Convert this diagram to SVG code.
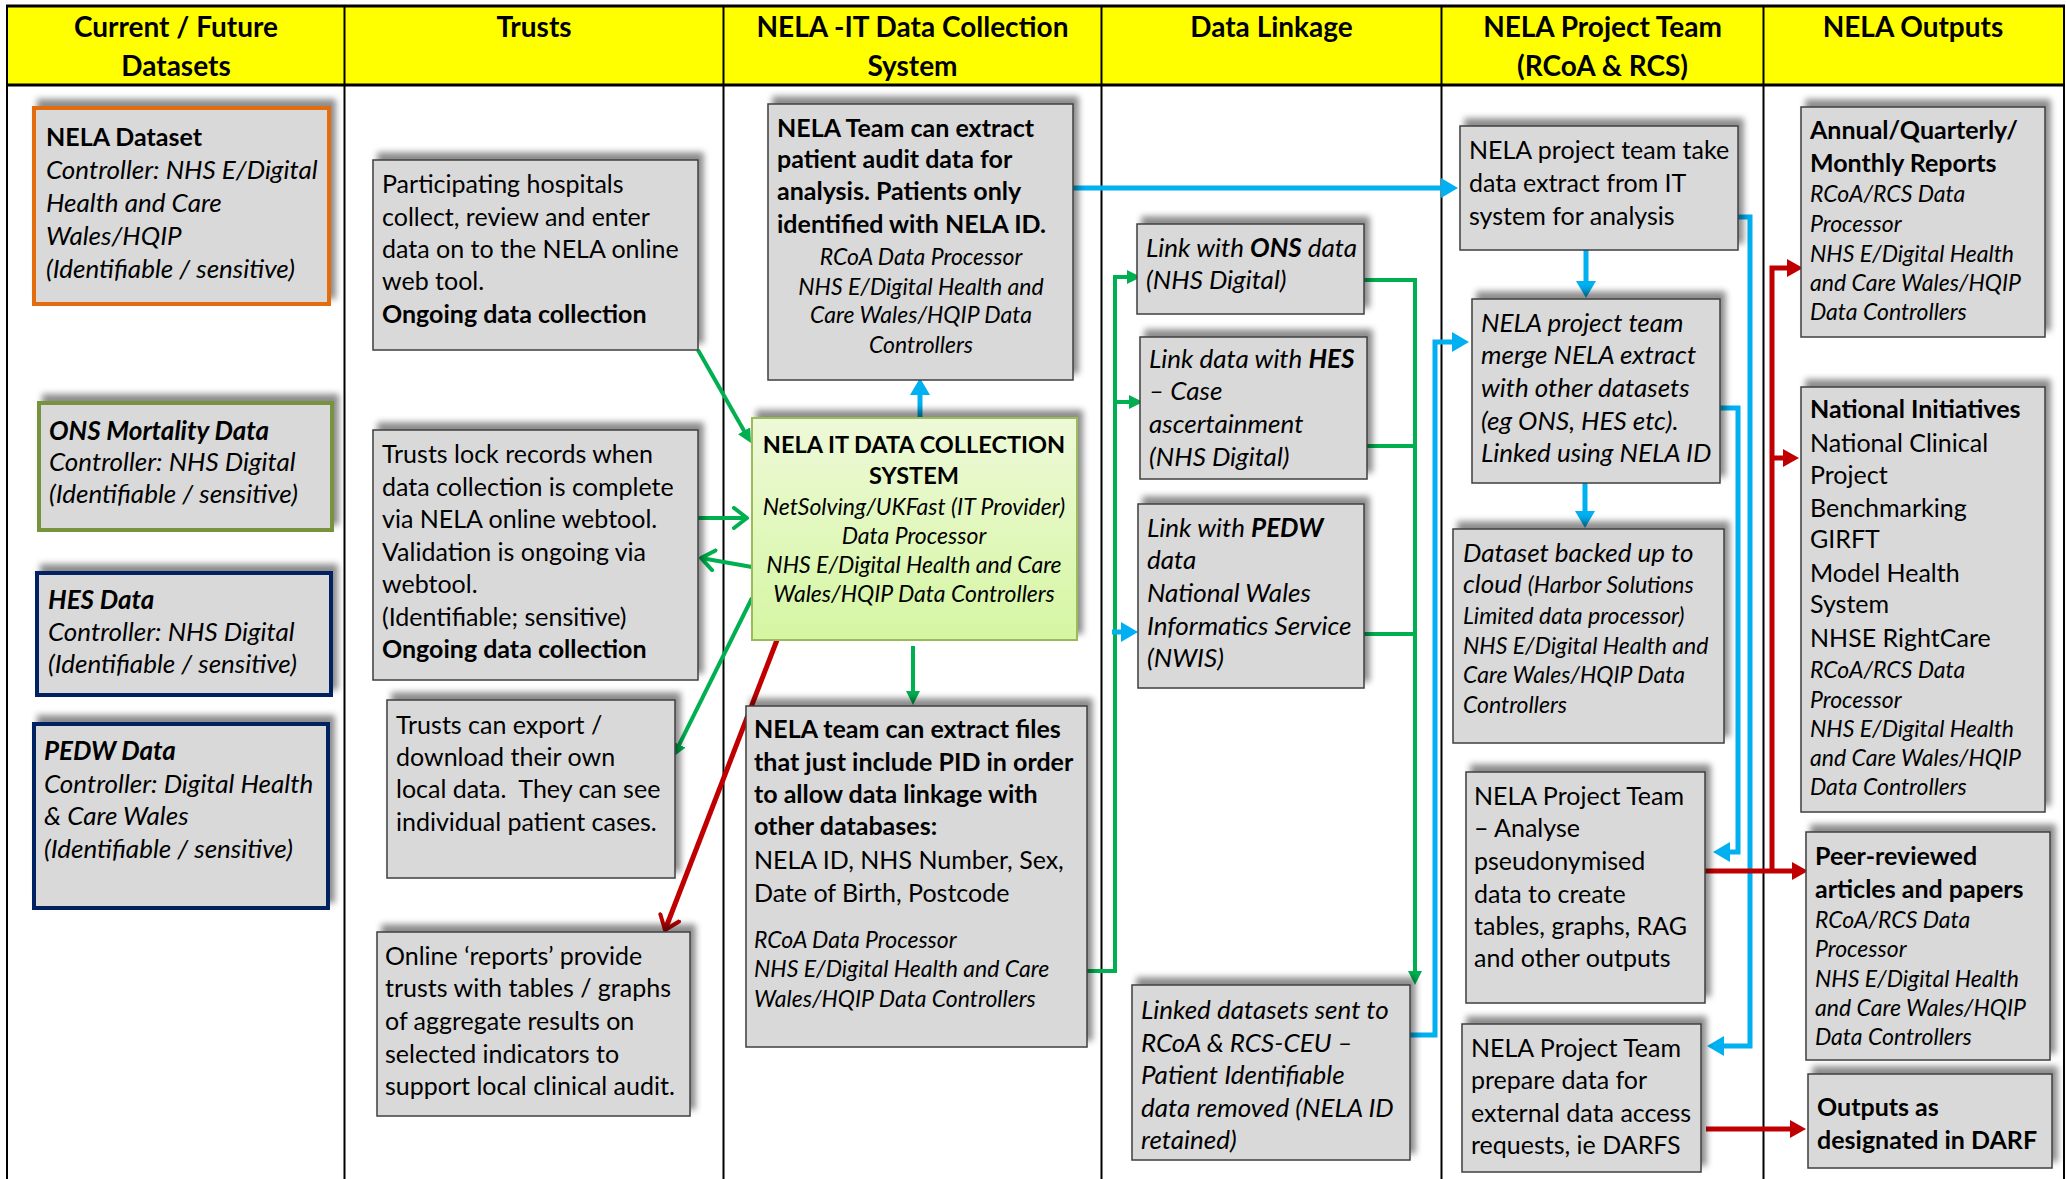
<svg xmlns="http://www.w3.org/2000/svg" width="2066" height="1179" viewBox="0 0 2066 1179">
<style>
text{font-family:Lato,"Liberation Sans",sans-serif;font-size:25px;fill:#000}
.b{font-weight:bold}
.i{font-style:italic;font-size:26px}
.s{font-size:23px}
.h{font-size:28px;font-weight:bold;text-anchor:middle}
.c{text-anchor:middle}
.tt{font-size:23.5px}
.box{fill:#D9D9D9;stroke:#3F3F3F;stroke-width:1.5;filter:url(#sh)}
.grid{stroke:#000;stroke-width:2;fill:none}
.g{stroke:#00B050;stroke-width:4;fill:none}
.bl{stroke:#00B0F0;stroke-width:5;fill:none}
.r{stroke:#C00000;stroke-width:5;fill:none}
</style>
<defs>
<filter id="sh" x="-10%" y="-15%" width="125%" height="130%">
<feGaussianBlur in="SourceAlpha" stdDeviation="3"/>
<feOffset dx="5" dy="-7" result="o"/>
<feFlood flood-color="#000" flood-opacity="0.45"/>
<feComposite in2="o" operator="in"/>
<feMerge><feMergeNode/><feMergeNode in="SourceGraphic"/></feMerge>
</filter>
<linearGradient id="lg" x1="0" y1="0" x2="0" y2="1">
<stop offset="0" stop-color="#EEF9D8"/>
<stop offset="1" stop-color="#D5F6A2"/>
</linearGradient>
<marker id="ag" markerUnits="userSpaceOnUse" markerWidth="14" markerHeight="14" refX="6" refY="7" orient="auto"><path d="M0,0 L14,7 L0,14 z" fill="#00B050"/></marker>
<marker id="ab" markerUnits="userSpaceOnUse" markerWidth="17" markerHeight="20" refX="6" refY="10" orient="auto"><path d="M0,0 L17,10 L0,20 z" fill="#00B0F0"/></marker>
<marker id="ar" markerUnits="userSpaceOnUse" markerWidth="16" markerHeight="18" refX="6" refY="9" orient="auto"><path d="M0,0 L16,9 L0,18 z" fill="#C00000"/></marker>
<marker id="ogn" markerUnits="userSpaceOnUse" markerWidth="18" markerHeight="24" refX="15" refY="12" orient="auto"><path d="M2,2 L15,12 L2,22" fill="none" stroke="#00B050" stroke-width="4" stroke-linecap="round" stroke-linejoin="round"/></marker>
<marker id="orn" markerUnits="userSpaceOnUse" markerWidth="18" markerHeight="24" refX="15" refY="12" orient="auto"><path d="M2,2 L15,12 L2,22" fill="none" stroke="#C00000" stroke-width="4" stroke-linecap="round" stroke-linejoin="round"/></marker>
</defs>
<rect width="2066" height="1179" fill="#fff"/>
<g id="table">
<rect x="7" y="6" width="2057" height="79" fill="#FFFF00"/>
<line x1="6" y1="6" x2="2065" y2="6" stroke="#000" stroke-width="3"/>
<line x1="6" y1="85" x2="2065" y2="85" stroke="#000" stroke-width="3"/>
<path class="grid" d="M7,6 V1179 M344.5,6 V1179 M723.5,6 V1179 M1101.5,6 V1179 M1441.5,6 V1179 M1763.5,6 V1179 M2064,6 V1179"/>
<text class="h" x="176" y="37">Current / Future</text>
<text class="h" x="176" y="76">Datasets</text>
<text class="h" x="534" y="37">Trusts</text>
<text class="h" x="912.5" y="37">NELA -IT Data Collection</text>
<text class="h" x="912.5" y="76">System</text>
<text class="h" x="1271.5" y="37">Data Linkage</text>
<text class="h" x="1602.5" y="37">NELA Project Team</text>
<text class="h" x="1602.5" y="76">(RCoA &amp; RCS)</text>
<text class="h" x="1913" y="37">NELA Outputs</text>
</g>
<g id="connectors">
<line class="r" x1="777" y1="640" x2="665" y2="930" stroke-width="4" marker-end="url(#orn)"/>
<line class="g" x1="698" y1="350" x2="747" y2="436" marker-end="url(#ag)"/>
<line class="g" x1="698" y1="518" x2="747" y2="518" marker-end="url(#ogn)"/>
<line class="g" x1="752" y1="567" x2="701" y2="558" marker-end="url(#ogn)"/>
<line class="g" x1="752" y1="598" x2="676.6" y2="749.8" marker-end="url(#ag)"/>
<line class="g" x1="913" y1="646" x2="913" y2="697" marker-end="url(#ag)"/>
<polyline class="g" points="1087,971 1115,971 1115,277 1133,277" marker-end="url(#ag)"/>
<line class="g" x1="1115" y1="402" x2="1135" y2="402" marker-end="url(#ag)"/>
<polyline class="g" points="1364,280 1415,280 1415,977" marker-end="url(#ag)"/>
<line class="g" x1="1367" y1="446" x2="1415" y2="446"/>
<line class="g" x1="1364" y1="634" x2="1415" y2="634"/>
<line class="bl" x1="1112" y1="632" x2="1127" y2="632" marker-end="url(#ab)"/>
<line class="bl" x1="1073" y1="188" x2="1447" y2="188" marker-end="url(#ab)"/>
<line class="bl" x1="920" y1="418" x2="920" y2="389" marker-end="url(#ab)"/>
<line class="bl" x1="1586" y1="250" x2="1586" y2="287" marker-end="url(#ab)"/>
<polyline class="bl" points="1410,1035 1435,1035 1435,342 1458,342" marker-end="url(#ab)"/>
<line class="bl" x1="1585" y1="483" x2="1585" y2="517" marker-end="url(#ab)"/>
<polyline class="bl" points="1737,217 1750,217 1750,1046 1718,1046" marker-end="url(#ab)"/>
<polyline class="bl" points="1720,408 1738,408 1738,852 1724,852" marker-end="url(#ab)"/>
<line class="r" x1="1702" y1="871" x2="1798" y2="871" marker-end="url(#ar)"/>
<polyline class="r" points="1772,871 1772,268 1793,268" marker-end="url(#ar)"/>
<line class="r" x1="1772" y1="458" x2="1789" y2="458" marker-end="url(#ar)"/>
<line class="r" x1="1706" y1="1129" x2="1796" y2="1129" marker-end="url(#ar)"/>
</g>
<g id="n1">
<rect x="34" y="108" width="295" height="196" fill="#D9D9D9" stroke="#E36C0A" stroke-width="4" filter="url(#sh)"/>
<text x="46" y="146" class="b">NELA Dataset</text>
<text x="46" y="179" class="i">Controller: NHS E/Digital</text>
<text x="46" y="212" class="i">Health and Care</text>
<text x="46" y="245" class="i">Wales/HQIP</text>
<text x="46" y="278" class="i">(Identifiable / sensitive)</text>
</g>
<g id="n2">
<rect x="39" y="403" width="293" height="127" fill="#D9D9D9" stroke="#77933C" stroke-width="4" filter="url(#sh)"/>
<text x="49" y="440" class="b i">ONS Mortality Data</text>
<text x="49" y="471" class="i">Controller: NHS Digital</text>
<text x="49" y="503" class="i">(Identifiable / sensitive)</text>
</g>
<g id="n3">
<rect x="37" y="573" width="294" height="122" fill="#D9D9D9" stroke="#002060" stroke-width="4" filter="url(#sh)"/>
<text x="48" y="609" class="b i">HES Data</text>
<text x="48" y="641" class="i">Controller: NHS Digital</text>
<text x="48" y="673" class="i">(Identifiable / sensitive)</text>
</g>
<g id="n4">
<rect x="34" y="724" width="294" height="184" fill="#D9D9D9" stroke="#002060" stroke-width="4" filter="url(#sh)"/>
<text x="44" y="760" class="b i">PEDW Data</text>
<text x="44" y="793" class="i">Controller: Digital Health</text>
<text x="44" y="825" class="i">&amp; Care Wales</text>
<text x="44" y="858" class="i">(Identifiable / sensitive)</text>
</g>
<g id="n5">
<rect class="box" x="373" y="160" width="325" height="190"/>
<text x="382" y="193">Participating hospitals</text>
<text x="382" y="226">collect, review and enter</text>
<text x="382" y="258">data on to the NELA online</text>
<text x="382" y="290">web tool.</text>
<text x="382" y="323" class="b">Ongoing data collection</text>
</g>
<g id="n6">
<rect class="box" x="373" y="430" width="325" height="250"/>
<text x="382" y="463">Trusts lock records when</text>
<text x="382" y="496">data collection is complete</text>
<text x="382" y="528">via NELA online webtool.</text>
<text x="382" y="561">Validation is ongoing via</text>
<text x="382" y="593">webtool.</text>
<text x="382" y="626">(Identifiable; sensitive)</text>
<text x="382" y="658" class="b">Ongoing data collection</text>
</g>
<g id="n7">
<rect class="box" x="387" y="700" width="288" height="178"/>
<text x="396" y="734">Trusts can export /</text>
<text x="396" y="766">download their own</text>
<text x="396" y="798" xml:space="preserve">local data.  They can see</text>
<text x="396" y="831">individual patient cases.</text>
</g>
<g id="n8">
<rect class="box" x="377" y="932" width="313" height="184"/>
<text x="385" y="965">Online ‘reports’ provide</text>
<text x="385" y="997">trusts with tables / graphs</text>
<text x="385" y="1030">of aggregate results on</text>
<text x="385" y="1063">selected indicators to</text>
<text x="385" y="1095">support local clinical audit.</text>
</g>
<g id="n9">
<rect class="box" x="768" y="104" width="305" height="276"/>
<text x="777" y="137" class="b">NELA Team can extract</text>
<text x="777" y="168" class="b">patient audit data for</text>
<text x="777" y="200" class="b">analysis. Patients only</text>
<text x="777" y="233" class="b">identified with NELA ID.</text>
<text x="921" y="265" class="i s c">RCoA Data Processor</text>
<text x="921" y="295" class="i s c">NHS E/Digital Health and</text>
<text x="921" y="323" class="i s c">Care Wales/HQIP Data</text>
<text x="921" y="353" class="i s c">Controllers</text>
</g>
<g id="n10">
<rect x="752" y="418" width="325" height="222" fill="url(#lg)" stroke="#9BBB59" stroke-width="2" filter="url(#sh)"/>
<text x="914" y="453" class="b c tt">NELA IT DATA COLLECTION</text>
<text x="914" y="484" class="b c tt">SYSTEM</text>
<text x="914" y="515" class="i s c">NetSolving/UKFast (IT Provider)</text>
<text x="914" y="544" class="i s c">Data Processor</text>
<text x="914" y="573" class="i s c">NHS E/Digital Health and Care</text>
<text x="914" y="602" class="i s c">Wales/HQIP Data Controllers</text>
</g>
<g id="n11">
<rect class="box" x="746" y="706" width="341" height="341"/>
<text x="754" y="738" class="b">NELA team can extract files</text>
<text x="754" y="771" class="b">that just include PID in order</text>
<text x="754" y="803" class="b">to allow data linkage with</text>
<text x="754" y="835" class="b">other databases:</text>
<text x="754" y="869">NELA ID, NHS Number, Sex,</text>
<text x="754" y="902">Date of Birth, Postcode</text>
<text x="754" y="948" class="i s">RCoA Data Processor</text>
<text x="754" y="977" class="i s">NHS E/Digital Health and Care</text>
<text x="754" y="1007" class="i s">Wales/HQIP Data Controllers</text>
</g>
<g id="n12">
<rect class="box" x="1137" y="224" width="227" height="90"/>
<text x="1146" y="257" class="i">Link with <tspan class="b">ONS</tspan> data</text>
<text x="1146" y="289" class="i">(NHS Digital)</text>
</g>
<g id="n13">
<rect class="box" x="1140" y="337" width="227" height="142"/>
<text x="1149" y="368" class="i">Link data with <tspan class="b">HES</tspan></text>
<text x="1149" y="400" class="i">– Case</text>
<text x="1149" y="433" class="i">ascertainment</text>
<text x="1149" y="466" class="i">(NHS Digital)</text>
</g>
<g id="n14">
<rect class="box" x="1138" y="504" width="226" height="184"/>
<text x="1147" y="537" class="i">Link with <tspan class="b">PEDW</tspan></text>
<text x="1147" y="569" class="i">data</text>
<text x="1147" y="602" class="i">National Wales</text>
<text x="1147" y="635" class="i">Informatics Service</text>
<text x="1147" y="667" class="i">(NWIS)</text>
</g>
<g id="n15">
<rect class="box" x="1132" y="985" width="278" height="175"/>
<text x="1141" y="1019" class="i">Linked datasets sent to</text>
<text x="1141" y="1052" class="i">RCoA &amp; RCS-CEU –</text>
<text x="1141" y="1084" class="i">Patient Identifiable</text>
<text x="1141" y="1117" class="i">data removed (NELA ID</text>
<text x="1141" y="1149" class="i">retained)</text>
</g>
<g id="n16">
<rect class="box" x="1460" y="126" width="278" height="124"/>
<text x="1469" y="159">NELA project team take</text>
<text x="1469" y="192">data extract from IT</text>
<text x="1469" y="225">system for analysis</text>
</g>
<g id="n17">
<rect class="box" x="1472" y="299" width="248" height="184"/>
<text x="1481" y="332" class="i">NELA project team</text>
<text x="1481" y="364" class="i">merge NELA extract</text>
<text x="1481" y="397" class="i">with other datasets</text>
<text x="1481" y="430" class="i">(eg ONS, HES etc).</text>
<text x="1481" y="462" class="i">Linked using NELA ID</text>
</g>
<g id="n18">
<rect class="box" x="1453" y="529" width="271" height="214"/>
<text x="1463" y="562" class="i">Dataset backed up to</text>
<text x="1463" y="593" class="i">cloud <tspan class="s">(Harbor Solutions</tspan></text>
<text x="1463" y="624" class="i s">Limited data processor)</text>
<text x="1463" y="654" class="i s">NHS E/Digital Health and</text>
<text x="1463" y="683" class="i s">Care Wales/HQIP Data</text>
<text x="1463" y="713" class="i s">Controllers</text>
</g>
<g id="n19">
<rect class="box" x="1466" y="772" width="239" height="231"/>
<text x="1474" y="805">NELA Project Team</text>
<text x="1474" y="837">– Analyse</text>
<text x="1474" y="870">pseudonymised</text>
<text x="1474" y="903">data to create</text>
<text x="1474" y="935">tables, graphs, RAG</text>
<text x="1474" y="967">and other outputs</text>
</g>
<g id="n20">
<rect class="box" x="1462" y="1024" width="239" height="148"/>
<text x="1471" y="1057">NELA Project Team</text>
<text x="1471" y="1089">prepare data for</text>
<text x="1471" y="1122">external data access</text>
<text x="1471" y="1154">requests, ie DARFS</text>
</g>
<g id="n21">
<rect class="box" x="1801" y="107" width="244" height="230"/>
<text x="1810" y="139" class="b">Annual/Quarterly/</text>
<text x="1810" y="172" class="b">Monthly Reports</text>
<text x="1810" y="202" class="i s">RCoA/RCS Data</text>
<text x="1810" y="232" class="i s">Processor</text>
<text x="1810" y="262" class="i s">NHS E/Digital Health</text>
<text x="1810" y="291" class="i s">and Care Wales/HQIP</text>
<text x="1810" y="320" class="i s">Data Controllers</text>
</g>
<g id="n22">
<rect class="box" x="1801" y="387" width="244" height="425"/>
<text x="1810" y="418" class="b">National Initiatives</text>
<text x="1810" y="452">National Clinical</text>
<text x="1810" y="484">Project</text>
<text x="1810" y="517">Benchmarking</text>
<text x="1810" y="548">GIRFT</text>
<text x="1810" y="582">Model Health</text>
<text x="1810" y="613">System</text>
<text x="1810" y="647">NHSE RightCare</text>
<text x="1810" y="678" class="i s">RCoA/RCS Data</text>
<text x="1810" y="708" class="i s">Processor</text>
<text x="1810" y="737" class="i s">NHS E/Digital Health</text>
<text x="1810" y="766" class="i s">and Care Wales/HQIP</text>
<text x="1810" y="795" class="i s">Data Controllers</text>
</g>
<g id="n23">
<rect class="box" x="1806" y="832" width="244" height="228"/>
<text x="1815" y="865" class="b">Peer-reviewed</text>
<text x="1815" y="898" class="b">articles and papers</text>
<text x="1815" y="928" class="i s">RCoA/RCS Data</text>
<text x="1815" y="957" class="i s">Processor</text>
<text x="1815" y="987" class="i s">NHS E/Digital Health</text>
<text x="1815" y="1016" class="i s">and Care Wales/HQIP</text>
<text x="1815" y="1045" class="i s">Data Controllers</text>
</g>
<g id="n24">
<rect class="box" x="1808" y="1074" width="244" height="94"/>
<text x="1817" y="1116" class="b">Outputs as</text>
<text x="1817" y="1149" class="b">designated in DARF</text>
</g>
</svg>
